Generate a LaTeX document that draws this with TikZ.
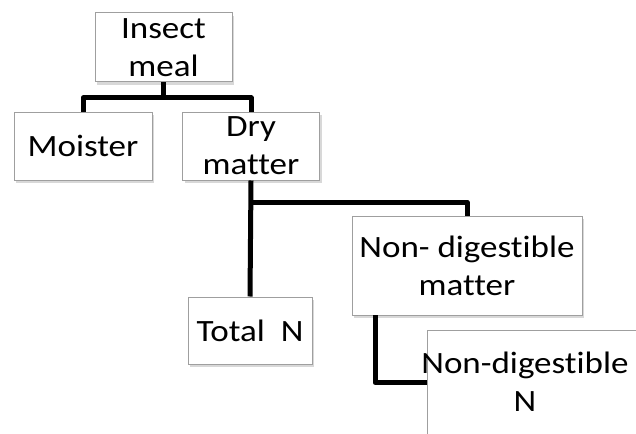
\documentclass[tikz,border=0pt]{standalone}
\usepackage{fontspec}
\setmainfont{Carlito}[FakeStretch=1.13,Ligatures=CommonOff]
\usetikzlibrary{shadows,positioning}

\tikzset{box/.style={draw=gray!75,line width=1pt,fill=white,
    drop shadow={opacity=0.3,shadow xshift=2pt,shadow yshift=-3pt},
    align=center,inner sep=0pt,font=\fontsize{31}{38}\selectfont},
  lbl/.style={align=center,inner sep=0pt,font=\fontsize{31}{38}\selectfont},
  link/.style={line width=5pt,line join=round}}

\begin{document}
\begin{tikzpicture}[x=1pt,y=-1pt]
\clip (0,0) rectangle (636,433);
\fill[white] (0,0) rectangle (636,433);
\node[box,minimum width=137pt,minimum height=69pt] (ins) at (163.5,47.5) {Insect\\meal};
\node[box,minimum width=138pt,minimum height=68pt] (moi) at (83,146) {Moister};
\node[box,minimum width=137pt,minimum height=68pt] (dry) at (251,146) {Dry\\matter};
\node[box,minimum width=124pt,minimum height=67pt] (tot) at (250,330.5) {Total~~N};
\node[box,minimum width=230pt,minimum height=99pt] (ndm) at (467,265.5) {Non- digestible\\matter};
\node[box,minimum width=230pt,minimum height=104pt,anchor=north west] (ndnbox) at (427,330) {};
\node[lbl] (ndn) at (525,382) {Non-digestible\\N};
% links
\coordinate (j1) at (163.5,98);
\coordinate (j2) at (251,202);
\coordinate (j3) at (375,315);
\draw[link] (ins.south) -- (j1);
\draw[link] (moi.north) |- (j1) -| (dry.north);
\draw[link] (dry.south) -- (tot.north);
\draw[link] (j2) -| (ndm.north);
\draw[link] (j3) |- (ndnbox.west);
\end{tikzpicture}
\end{document}
